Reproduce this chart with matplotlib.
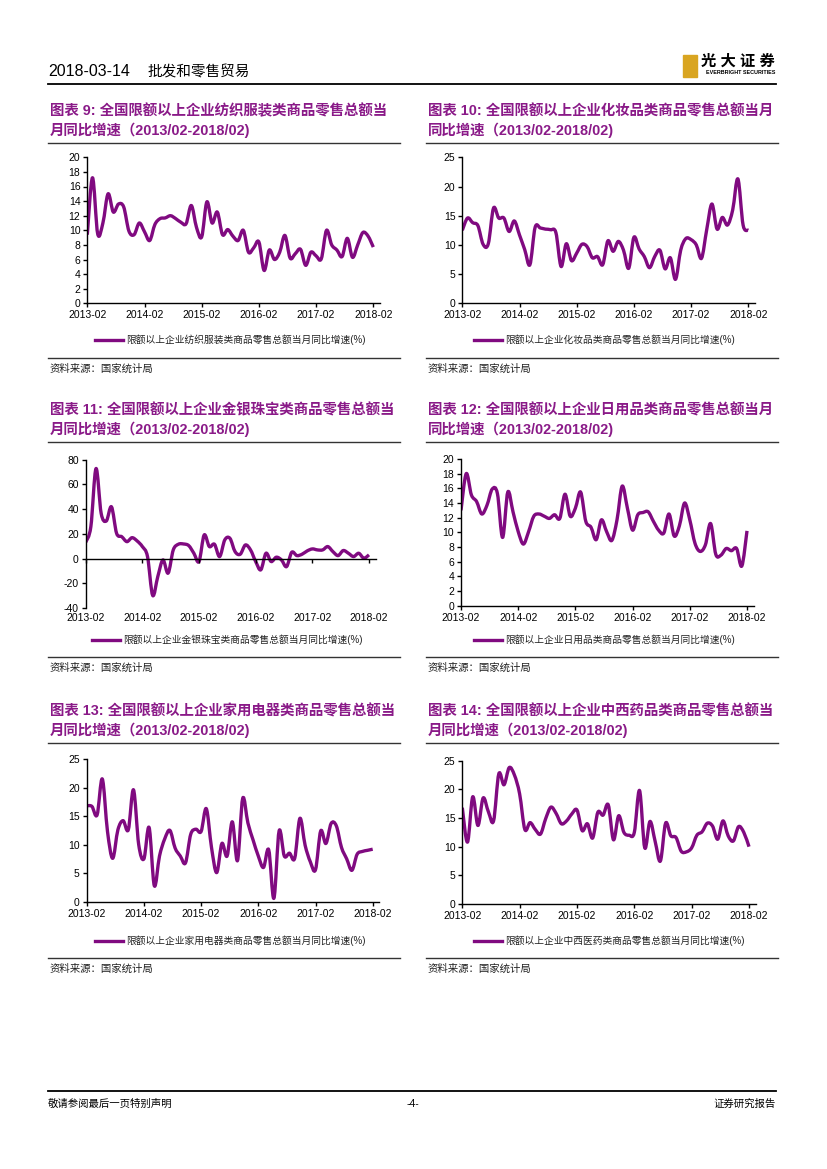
import numpy as np
import matplotlib
matplotlib.use("Agg")
import matplotlib.pyplot as plt
from matplotlib.lines import Line2D
from matplotlib.patches import Rectangle, PathPatch
from matplotlib.path import Path
from matplotlib.transforms import offset_copy

# page size in pixels
W, H = 827, 1169

LINE_COLOR = '#800a80'
TITLE_COLOR = '#8a1a88'
CJK = ['Liberation Sans', 'Noto Sans CJK SC', 'DejaVu Sans']

plt.rcParams['font.family'] = CJK
plt.rcParams['axes.unicode_minus'] = False

# x axis: monthly points 2013-02 .. 2018-02 (January merged into February)
tick_labels = ['2013-02', '2014-02', '2015-02', '2016-02', '2017-02', '2018-02']

# 纺织服装
textile = [9.4, 17.2, 9.5, 11.0, 15.0, 12.5, 13.6, 13.2, 9.9, 9.4, 11.0, 9.8, 8.6, 10.8,
           11.6, 11.7, 12.0, 11.6, 11.1, 10.9, 13.4, 10.4, 9.1, 13.9, 11.0, 12.5, 9.4, 10.1,
           9.2, 8.6, 10.0, 7.0, 7.6, 8.4, 4.5, 7.3, 6.0, 7.0, 9.3, 6.2, 6.8, 7.4, 5.2, 7.0,
           6.5, 6.1, 10.0, 8.0, 7.3, 6.4, 8.9, 6.3, 8.0, 9.7, 9.2, 7.7]
# 化妆品
cosmetics = [12.5, 14.6, 13.8, 13.3, 10.1, 10.2, 16.3, 14.6, 14.6, 12.3, 14.1, 11.7, 9.2, 6.6,
             13.0, 12.9, 12.7, 12.6, 12.1, 6.3, 10.2, 7.3, 8.6, 10.1, 9.7, 7.8, 8.0, 6.6,
             10.7, 8.9, 10.6, 9.1, 6.0, 11.3, 9.3, 8.0, 6.1, 8.0, 9.1, 5.9, 7.8, 4.1, 9.1,
             11.1, 10.9, 10.0, 7.7, 12.6, 17.0, 12.7, 14.7, 13.4, 16.0, 21.3, 13.4, 12.5]
# 金银珠宝
jewelry = [13.2, 25.8, 72.8, 36.6, 30.4, 41.9, 20.4, 17.7, 13.7, 16.9, 14.2, 9.7, 1.6, -29.8,
           -14.5, -1.1, -11.8, 7.0, 11.6, 11.8, 10.5, 4.3, -2.4, 19.1, 9.7, 11.6, 1.6, 15.1,
           16.4, 5.6, 3.5, 11.0, 7.0, -2.4, -9.1, 4.3, -2.4, 1.1, -1.1, -6.5, 5.1, 2.4, 3.5,
           6.2, 7.8, 7.0, 7.0, 9.7, 5.6, 2.4, 6.5, 4.3, 1.6, 4.3, 0.3, 3.0]
# 日用品
daily = [13.0, 18.0, 15.1, 14.2, 12.5, 13.7, 15.9, 15.3, 9.3, 15.5, 12.8, 10.1, 8.4, 10.1,
         12.2, 12.5, 12.2, 11.9, 12.4, 11.9, 15.2, 12.2, 13.3, 15.5, 11.5, 10.7, 9.0, 11.7,
         10.1, 8.9, 11.7, 16.3, 13.3, 10.3, 12.4, 12.7, 12.8, 11.5, 10.3, 9.9, 12.5, 9.5,
         10.9, 14.0, 11.7, 8.5, 7.4, 8.3, 11.2, 7.0, 6.9, 7.8, 7.5, 7.8, 5.4, 10.2]
# 家用电器
appliance = [16.8, 16.7, 15.2, 21.5, 12.3, 7.6, 12.6, 14.2, 12.6, 19.6, 10.0, 7.5, 13.0, 2.8,
             8.0, 11.0, 12.5, 9.4, 8.0, 6.8, 11.8, 12.7, 12.3, 16.3, 9.5, 5.1, 10.2, 8.0,
             14.0, 7.2, 18.1, 13.8, 10.8, 8.0, 6.0, 9.1, 0.6, 12.4, 8.0, 8.5, 7.6, 14.6, 9.9,
             7.0, 5.6, 12.4, 10.2, 13.7, 13.3, 9.5, 7.5, 5.5, 8.3, 8.8, 9.0, 9.2]
# 中西药品
medicine = [16.8, 10.8, 18.7, 13.7, 18.5, 16.1, 14.5, 22.7, 20.8, 23.8, 22.5, 19.2, 13.0, 14.2,
            13.0, 12.2, 14.9, 16.9, 15.8, 14.0, 14.5, 15.7, 16.4, 12.8, 14.0, 11.5, 16.0, 15.5,
            17.3, 11.2, 15.4, 12.5, 12.0, 12.5, 19.8, 9.8, 14.4, 10.9, 7.5, 14.1, 11.9, 11.6,
            9.2, 9.1, 9.8, 12.0, 12.6, 14.1, 13.6, 11.3, 14.5, 11.9, 11.0, 13.5, 12.5, 10.0]


def px_rect(left, top, right, bottom):
    return [left / W, 1 - bottom / H, (right - left) / W, (bottom - top) / H]


def fx(x):
    return x / W


def fy(y):
    return 1 - y / H


def hline(fig, x0, x1, y, lw=1.0, color='#333333'):
    fig.add_artist(Line2D([fx(x0), fx(x1)], [fy(y), fy(y)], color=color, lw=lw))


def smooth_path(x, y):
    """
    Excel style smoothed line: cubic bezier through every data point
    (catmull-rom control points).
    """
    pts = np.column_stack([x, y]).astype(float)
    ext = np.vstack([pts[0], pts, pts[-1]])
    verts = [pts[0]]
    codes = [Path.MOVETO]
    for i in range(len(pts) - 1):
        p0, p1, p2, p3 = ext[i], ext[i + 1], ext[i + 2], ext[i + 3]
        verts += [p1 + (p2 - p0) / 6, p2 - (p3 - p1) / 6, p2]
        codes += [Path.CURVE4] * 3
    return Path(verts, codes)


def draw_panel(fig, rect, values, ylim, ystep, label, legend_x, legend_y, zero_axis=False):
    """
    One line chart. rect is (left, top, last_tick_x, bottom) in page pixels.
    """
    left, top, last_tick, bottom = rect
    xmax = 56.3
    right = left + (last_tick - left) / 55 * xmax
    ax = fig.add_axes(px_rect(left, top, right, bottom))
    x = np.arange(len(values))
    ax.add_patch(PathPatch(smooth_path(x, values), fill=False, edgecolor=LINE_COLOR,
                           lw=2.4, joinstyle='round', capstyle='butt'))
    ax.set_xlim(0, xmax)
    ax.set_ylim(ylim)
    ax.set_yticks(np.arange(ylim[0], ylim[1] + 0.1, ystep))
    ax.set_xticks(np.arange(0, 56, 11))
    ax.set_xticklabels(tick_labels)
    for s in ['top', 'right']:
        ax.spines[s].set_visible(False)
    for s in ['left', 'bottom']:
        ax.spines[s].set_linewidth(1.0)
        ax.spines[s].set_color('black')
    ax.tick_params(direction='out', length=3, width=1, labelsize=7.5, pad=2, colors='black')
    ax.patch.set_alpha(0)
    if zero_axis:
        # axis crosses at zero, labels stay at the bottom
        ax.spines['bottom'].set_position(('data', 0))
        ax.tick_params(axis='x', labelbottom=False)
        trans = offset_copy(ax.transData, fig=fig, y=-5, units='dots')
        for t, lab in zip(ax.get_xticks(), tick_labels):
            ax.text(t, ylim[0], lab, transform=trans, ha='center', va='top', fontsize=7.5)
    handle = Line2D([], [], color=LINE_COLOR, lw=2.4)
    ax.legend([handle], [label], loc='center left',
              bbox_to_anchor=(fx(legend_x), fy(legend_y)),
              bbox_transform=fig.transFigure, frameon=False, fontsize=7,
              handlelength=2.9, handletextpad=0.3, borderpad=0, borderaxespad=0,
              labelcolor='#222222')
    return ax


fig = plt.figure(figsize=(W / 100, H / 100), dpi=100)

# page header
fig.text(fx(48), fy(72), '2018-03-14', fontsize=11.5, va='center', family=['Liberation Sans'])
fig.text(fx(148), fy(72), '批发和零售贸易', fontsize=10.5, va='center', family=CJK)
hline(fig, 48, 776, 84, lw=1.3, color='black')
fig.add_artist(Rectangle((fx(683), fy(77)), 14 / W, 22 / H, color='#d9a521',
                         transform=fig.transFigure))
fig.text(fx(775), fy(62), '光 大 证 券', fontsize=11, fontweight='bold', va='center',
         ha='right', family=CJK)
fig.text(fx(775), fy(73), 'EVERBRIGHT SECURITIES', fontsize=3.9, fontweight='bold',
         va='center', ha='right', family=['Liberation Sans'])

# chart titles, two lines each
titles = [
    (50, 111, '图表 9: 全国限额以上企业纺织服装类商品零售总额当', '月同比增速（2013/02-2018/02)'),
    (428, 111, '图表 10: 全国限额以上企业化妆品类商品零售总额当月', '同比增速（2013/02-2018/02)'),
    (50, 410, '图表 11: 全国限额以上企业金银珠宝类商品零售总额当', '月同比增速（2013/02-2018/02)'),
    (428, 410, '图表 12: 全国限额以上企业日用品类商品零售总额当月', '同比增速（2013/02-2018/02)'),
    (50, 711, '图表 13: 全国限额以上企业家用电器类商品零售总额当', '月同比增速（2013/02-2018/02)'),
    (428, 711, '图表 14: 全国限额以上企业中西药品类商品零售总额当', '月同比增速（2013/02-2018/02)'),
]
for tx, ty, line1, line2 in titles:
    fig.text(fx(tx), fy(ty), line1, color=TITLE_COLOR, fontsize=10.4, fontweight='bold',
             va='center', family=CJK)
    fig.text(fx(tx), fy(ty + 19), line2, color=TITLE_COLOR, fontsize=10.4, fontweight='bold',
             va='center', family=CJK)
    hline(fig, tx - 2, tx + 350, ty + 32)

# charts
draw_panel(fig, (87.3, 157.3, 373.3, 303.3), textile, (0, 20), 2,
           '限额以上企业纺织服装类商品零售总额当月同比增速(%)', 95, 340)
draw_panel(fig, (462.3, 157.3, 748.3, 303.3), cosmetics, (0, 25), 5,
           '限额以上企业化妆品类商品零售总额当月同比增速(%)', 474, 340)
draw_panel(fig, (85.7, 459.7, 369.0, 608.0), jewelry, (-40, 80), 20,
           '限额以上企业金银珠宝类商品零售总额当月同比增速(%)', 92, 640, zero_axis=True)
draw_panel(fig, (461.0, 459.0, 747.0, 605.7), daily, (0, 20), 2,
           '限额以上企业日用品类商品零售总额当月同比增速(%)', 474, 640)
draw_panel(fig, (86.7, 759.0, 372.7, 901.7), appliance, (0, 25), 5,
           '限额以上企业家用电器类商品零售总额当月同比增速(%)', 95, 941)
draw_panel(fig, (462.3, 760.7, 749.0, 904.0), medicine, (0, 25), 5,
           '限额以上企业中西医药类商品零售总额当月同比增速(%)', 474, 941)

# source notes
for sx, sy in [(50, 358), (428, 358), (50, 657), (428, 657), (50, 958), (428, 958)]:
    hline(fig, sx - 2, sx + 350, sy)
    fig.text(fx(sx), fy(sy + 11), '资料来源：国家统计局', fontsize=7.5, va='center',
             color='#222222', family=CJK)

# page footer
hline(fig, 48, 776, 1091, lw=1.3, color='black')
fig.text(fx(48), fy(1104), '敬请参阅最后一页特别声明', fontsize=7.5, va='center', family=CJK)
fig.text(fx(413), fy(1104), '-4-', fontsize=7.5, va='center', ha='center', family=CJK)
fig.text(fx(776), fy(1104), '证券研究报告', fontsize=7.5, va='center', ha='right', family=CJK)

fig.savefig('out.png', dpi=100)
